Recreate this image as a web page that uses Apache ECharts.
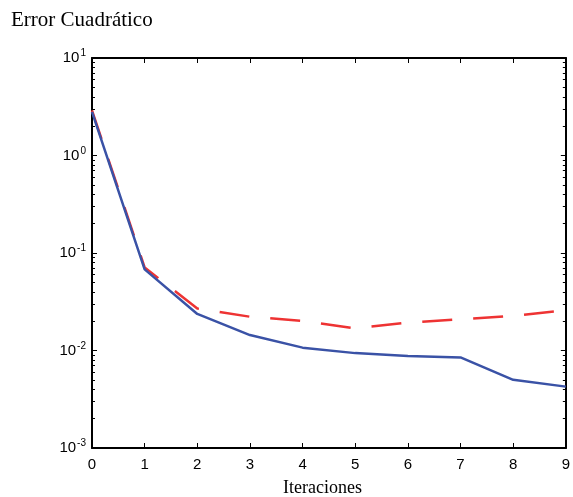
<!DOCTYPE html>
<html>
<head>
<meta charset="utf-8">
<script src="https://cdn.jsdelivr.net/npm/echarts@6/dist/echarts.min.js"></script>
<style>html,body{margin:0;padding:0;background:#fff}#c{width:573px;height:497px}</style>
</head>
<body>
<div id="c"></div>
<script>
const iterations = [0, 1, 2, 3, 4, 5, 6, 7, 8, 9];
const blueSeries = [2.8, 0.068, 0.0237, 0.0144, 0.0107, 0.0094, 0.0088, 0.0085, 0.0050, 0.00426];
const redSeries = [2.9, 0.071, 0.027, 0.0222, 0.0201, 0.0169, 0.0193, 0.0209, 0.0227, 0.0258];
const yMajorTicks = [0.001, 0.01, 0.1, 1, 10];
const yMinorTicks = [];
[0.001, 0.01, 0.1, 1].forEach(d => { for (let k = 2; k <= 9; k++) yMinorTicks.push(+(d * k).toPrecision(3)); });

const chart = echarts.init(document.getElementById('c'), null, {renderer: 'canvas'});
const axisLine = {show: true, onZero: false, lineStyle: {color: '#000', width: 2}};
const noLine = {show: false, onZero: false};
const yLabelFmt = v => '{b|10}{e|' + Math.round(Math.log10(v)) + '}';
const yRich = {
  b: {fontFamily: 'Liberation Sans, Arial', fontSize: 15, color: '#000'},
  e: {fontFamily: 'Liberation Sans, Arial', fontSize: 10, color: '#000', verticalAlign: 'bottom', padding: [0, 0, 9, 1]}
};
const logBase = {type: 'log', logBase: 10, min: 0.001, max: 10, splitLine: {show: false}, offset: 0};
chart.setOption({
  animation: false,
  backgroundColor: '#fff',
  grid: {left: 92, right: 3, top: 58, bottom: 49, containLabel: false},
  title: {text: 'Error Cuadrático', left: 6, top: 5,
    textStyle: {fontFamily: 'Liberation Serif, Times New Roman', fontSize: 21, fontWeight: 'normal', color: '#000'}},
  graphic: [{type: 'text', left: 283, top: 479,
    style: {text: 'Iteraciones', font: '18px "Liberation Serif", "Times New Roman"', fill: '#000'}}],
  xAxis: [
    {type: 'value', min: 0, max: 9, interval: 1, position: 'bottom',
      axisLine: axisLine, splitLine: {show: false},
      axisTick: {inside: true, length: 5, lineStyle: {color: '#000', width: 1}},
      axisLabel: {margin: 9, fontFamily: 'Liberation Sans, Arial', fontSize: 15, color: '#000', showMaxLabel: true}},
    {type: 'value', min: 0, max: 9, interval: 1, position: 'top',
      axisLine: axisLine, splitLine: {show: false},
      axisTick: {inside: true, length: 5, lineStyle: {color: '#000', width: 1}},
      axisLabel: {show: false}}
  ],
  yAxis: [
    Object.assign({}, logBase, {position: 'left', axisLine: axisLine,
      axisTick: {inside: true, length: 5, customValues: yMajorTicks, lineStyle: {color: '#000', width: 1}},
      axisLabel: {customValues: yMajorTicks, formatter: yLabelFmt, rich: yRich, margin: 6}}),
    Object.assign({}, logBase, {position: 'right', axisLine: axisLine,
      axisTick: {inside: true, length: 5, customValues: yMajorTicks, lineStyle: {color: '#000', width: 1}},
      axisLabel: {show: false}}),
    Object.assign({}, logBase, {position: 'left', axisLine: noLine,
      axisTick: {inside: true, length: 3, customValues: yMinorTicks, lineStyle: {color: '#000', width: 1}},
      axisLabel: {show: false}}),
    Object.assign({}, logBase, {position: 'right', axisLine: noLine,
      axisTick: {inside: true, length: 3, customValues: yMinorTicks, lineStyle: {color: '#000', width: 1}},
      axisLabel: {show: false}})
  ],
  series: [
    {type: 'line', name: 'red', xAxisIndex: 0, yAxisIndex: 0, showSymbol: false, symbol: 'none',
      data: iterations.map((x, i) => [x, redSeries[i]]),
      lineStyle: {color: '#ee3333', width: 2.5, type: [30, 21]}, z: 2},
    {type: 'line', name: 'blue', xAxisIndex: 0, yAxisIndex: 0, showSymbol: false, symbol: 'none',
      data: iterations.map((x, i) => [x, blueSeries[i]]),
      lineStyle: {color: '#3a52a6', width: 2.5}, z: 3}
  ]
});
</script>
</body>
</html>
